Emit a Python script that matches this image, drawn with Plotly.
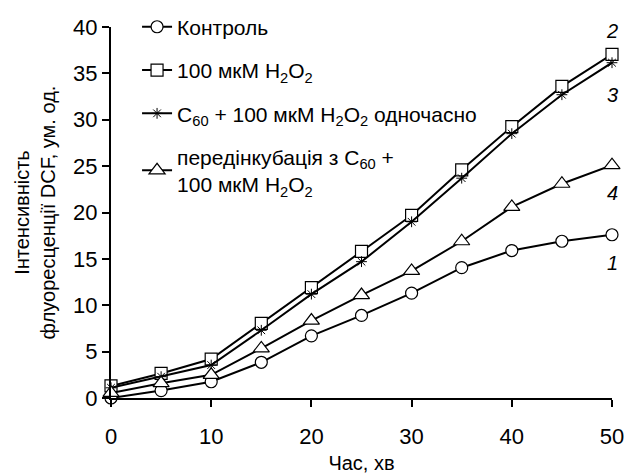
import plotly.graph_objects as go

time_min = [0, 5, 10, 15, 20, 25, 30, 35, 40, 45, 50]
control = [0.0, 0.8, 1.75, 3.85, 6.7, 8.9, 11.3, 14.05, 15.9, 16.9, 17.6]
h2o2 = [1.3, 2.65, 4.2, 8.05, 11.9, 15.8, 19.7, 24.6, 29.25, 33.6, 37.05]
c60_simult = [1.1, 2.3, 3.55, 7.3, 11.2, 14.7, 19.0, 23.7, 28.5, 32.7, 36.15]
c60_preinc = [0.55, 1.6, 2.5, 5.35, 8.35, 11.1, 13.7, 16.9, 20.6, 23.1, 25.1]

names = [
    "Контроль",
    "100 мкМ H<sub>2</sub>O<sub>2</sub>",
    "C<sub>60</sub> + 100 мкМ H<sub>2</sub>O<sub>2</sub> одночасно",
    "передінкубація з C<sub>60</sub> +<br>100 мкМ H<sub>2</sub>O<sub>2</sub>",
]
series = [control, h2o2, c60_simult, c60_preinc]
symbols = ["circle", "square", "asterisk-open", "triangle-up"]
sizes = [12, 12, 9, 14]

curve_labels = ["2", "3", "4", "1"]
label_y = [39.6, 32.7, 22.1, 14.55]

fig = go.Figure()
for i, (nm, ys, sym, sz) in enumerate(zip(names, series, symbols, sizes)):
    if sym == "asterisk-open":
        mk = dict(symbol=sym, size=sz, color="black", line=dict(color="black", width=1))
    else:
        mk = dict(symbol=sym, size=sz, color="white", line=dict(color="black", width=1.2))
    fig.add_trace(go.Scatter(
        x=time_min, y=ys, name=nm, mode="lines+markers",
        legendgroup=f"g{i}",
        line=dict(color="black", width=2),
        marker=mk,
        cliponaxis=False,
    ))

for t, yv in zip(curve_labels, label_y):
    fig.add_annotation(x=50, y=yv, xref="x", yref="y", text=f"<i>{t}</i>",
                       showarrow=False, xanchor="right", yanchor="middle", xshift=8,
                       font=dict(size=20, color="black"))

fig.update_layout(
    width=625, height=474,
    margin=dict(l=111, r=13, t=27, b=76, autoexpand=False),
    paper_bgcolor="white", plot_bgcolor="white",
    font=dict(family="Liberation Sans, Arial, sans-serif", color="black", size=19),
    showlegend=True,
    legend=dict(x=0.052, y=1.055, xanchor="left", yanchor="top",
                font=dict(size=21), traceorder="grouped", tracegroupgap=13,
                bgcolor="rgba(0,0,0,0)"),
    xaxis=dict(range=[0, 50], tickvals=[0, 10, 20, 30, 40, 50],
               showline=True, linecolor="black", linewidth=2,
               ticks="outside", ticklen=7, tickwidth=2, tickcolor="black",
               showgrid=False, zeroline=False, tickfont=dict(size=22),
               ticklabelstandoff=11, automargin=False,
               title=dict(text="Час, хв", font=dict(size=20), standoff=11)),
    yaxis=dict(range=[0, 40], tickvals=[0, 5, 10, 15, 20, 25, 30, 35, 40],
               showline=True, linecolor="black", linewidth=2,
               ticks="outside", ticklen=7, tickwidth=2, tickcolor="black",
               showgrid=False, zeroline=False, tickfont=dict(size=22),
               automargin=False,
               title=dict(text="Інтенсивність<br>флуоресценції DCF, ум. од.",
                          font=dict(size=20), standoff=12)),
)

fig.write_html(
    "out.html",
    config={"displayModeBar": False},
    post_script="document.body.style.margin='0';document.body.style.overflow='hidden';",
)
